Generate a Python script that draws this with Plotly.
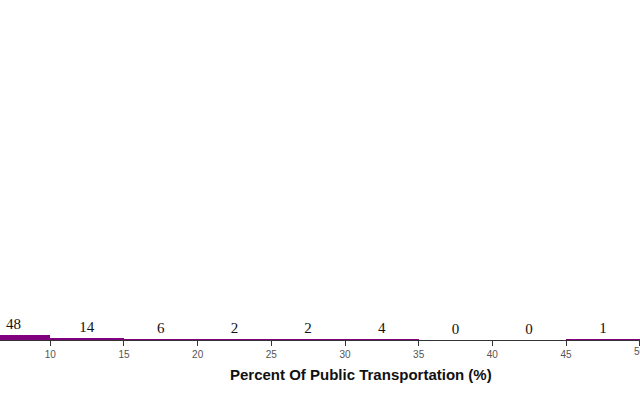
import plotly.graph_objects as go

bin_starts = [5, 10, 15, 20, 25, 30, 35, 40, 45]
bin_width = 5
counts = [48, 14, 6, 2, 2, 4, 0, 0, 1]
tick_vals = [10, 15, 20, 25, 30, 35, 40, 45, 50]
x_title = "Percent Of Public Transportation (%)"

centers = [s + bin_width / 2 for s in bin_starts]

fig = go.Figure()
fig.add_trace(go.Bar(
    x=centers,
    y=counts,
    width=[bin_width] * len(counts),
    marker=dict(color="#800080", line=dict(width=0)),
    text=[str(c) for c in counts],
    textposition="outside",
    textfont=dict(family="Liberation Serif", size=15, color="#111111"),
    cliponaxis=False,
    hoverinfo="skip",
))

fig.update_layout(
    width=640, height=400,
    margin=dict(l=0, r=0, t=10, b=60, autoexpand=False),
    plot_bgcolor="white", paper_bgcolor="white",
    showlegend=False,
    bargap=0,
)
fig.update_xaxes(
    range=[6.586, 50.02],
    tickvals=tick_vals,
    automargin=False,
    ticks="outside", ticklen=5, tickcolor="#333333",
    showline=True, linecolor="#333333", linewidth=1,
    showgrid=False, zeroline=False,
    tickfont=dict(family="Liberation Sans", size=10, color="#555555"),
)
fig.update_yaxes(range=[0, 3200], visible=False, automargin=False)

# edge tick label (partially cut by the window edge, as in the reference)
fig.add_annotation(
    x=tick_vals[-1], xref="x", y=-0.036, yref="paper",
    text=str(tick_vals[-1]), showarrow=False, xanchor="center", yanchor="middle",
    font=dict(family="Liberation Sans", size=10, color="#555555"),
)
# axis title
fig.add_annotation(
    x=0.564, xref="paper", y=-0.106, yref="paper",
    text="<b>" + x_title + "</b>", showarrow=False, xanchor="center", yanchor="middle",
    font=dict(family="Liberation Sans", size=15, color="#111111"),
)

fig.write_html("out.html", config={"displayModeBar": False},
               post_script="document.body.style.margin='0';")
